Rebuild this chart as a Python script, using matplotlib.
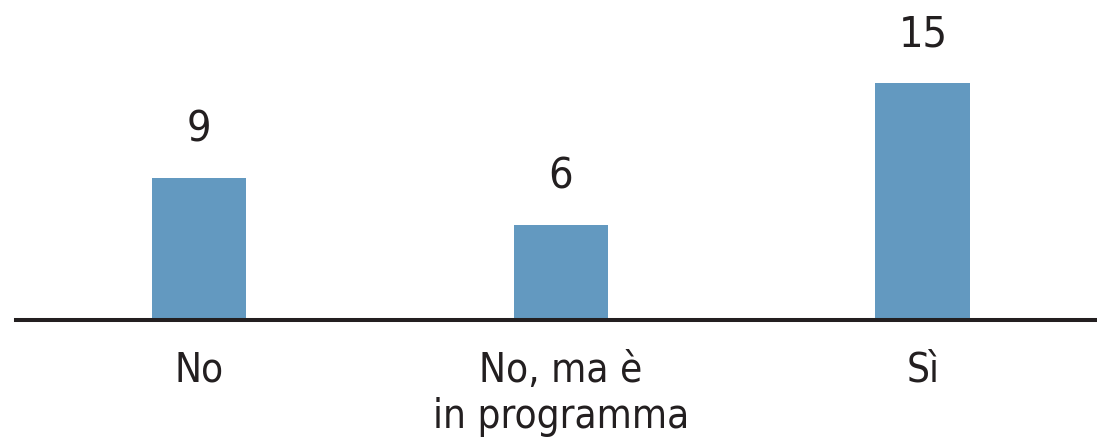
import matplotlib.pyplot as plt

categories = ["No", "No, ma è\nin programma", "Sì"]
values = [9, 6, 15]

bar_color = "#6399c0"
text_color = "#231f20"

plt.rcParams["font.family"] = "DejaVu Sans"
plt.rcParams["font.stretch"] = "condensed"

fig = plt.figure(figsize=(10.97, 4.45), dpi=100)
ax = fig.add_axes([16 / 1097, 125 / 445, 1 - 16 / 1097, 320 / 445])

x = range(len(categories))
bars = ax.bar(x, values, width=0.262, color=bar_color)

for b, v in zip(bars, values):
    ax.annotate(str(v), (b.get_x() + b.get_width() / 2, v),
                xytext=(0, 26), textcoords="offset points",
                ha="center", va="baseline", fontsize=31,
                color=text_color, fontstretch="condensed")

ax.set_xlim(-0.5055, 2.481)
ax.set_ylim(0, 320 / 15.83)
ax.set_xticks(list(x))
ax.set_xticklabels(categories, fontsize=29, color=text_color,
                   fontstretch="condensed", linespacing=1.2)
ax.tick_params(axis="x", length=0, pad=22)
ax.set_yticks([])
for s in ["top", "left", "right"]:
    ax.spines[s].set_visible(False)
ax.spines["bottom"].set_linewidth(2.9)
ax.spines["bottom"].set_color(text_color)

fig.savefig("out.png", dpi=100)
